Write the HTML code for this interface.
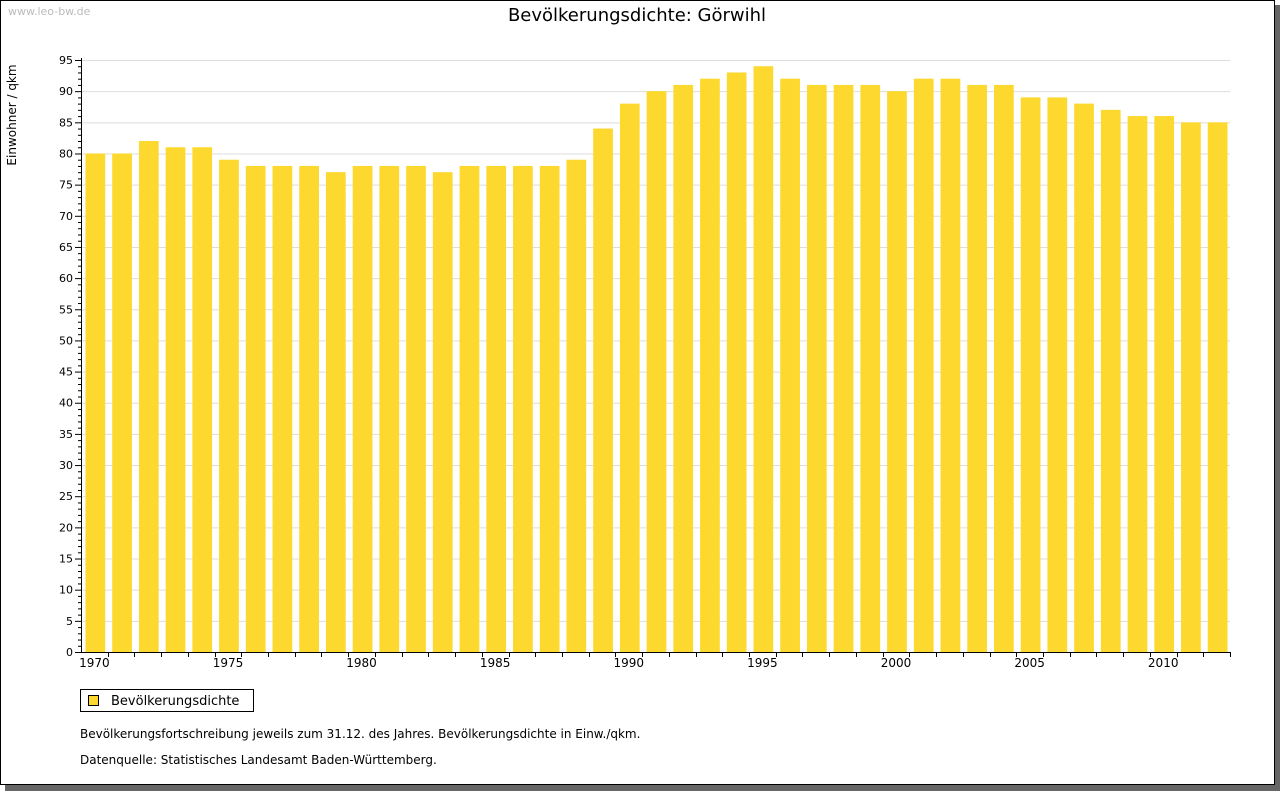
<!DOCTYPE html>
<html><head><meta charset="utf-8"><style>
body{margin:0;background:#fff;font-family:"DejaVu Sans","Liberation Sans",sans-serif;}
#wrap{position:relative;width:1280px;height:791px;overflow:hidden;}
</style></head><body>
<div id="wrap">
<svg id="svg" width="1280" height="791" xmlns="http://www.w3.org/2000/svg" font-family="DejaVu Sans, Liberation Sans, sans-serif">
<rect x="5" y="5" width="1275" height="786" fill="#666"/>
<rect x="0.5" y="0.5" width="1274" height="784" fill="#fff" stroke="#000"/>
<text x="8" y="15" font-size="11" fill="#bbb">www.leo-bw.de</text>
<text x="637" y="21" font-size="18" text-anchor="middle" fill="#000">Bevölkerungsdichte: Görwihl</text>
<text transform="translate(16,115) rotate(-90)" font-size="12" text-anchor="middle">Einwohner / qkm</text>
<g id="grid"></g><g id="bars"></g><g id="axes"></g>
<rect x="80.5" y="689.5" width="173" height="22" fill="#fff" stroke="#000"/>
<rect x="88.5" y="695.5" width="10" height="10" fill="#fdd82e" stroke="#000"/>
<text x="111" y="705" font-size="13">Bevölkerungsdichte</text>
<text x="80" y="738" font-size="12">Bevölkerungsfortschreibung jeweils zum 31.12. des Jahres. Bevölkerungsdichte in Einw./qkm.</text>
<text x="80" y="764" font-size="12">Datenquelle: Statistisches Landesamt Baden-Württemberg.</text>
</svg></div>
<script>
const years=[1970,1971,1972,1973,1974,1975,1976,1977,1978,1979,1980,1981,1982,1983,1984,1985,1986,1987,1988,1989,1990,1991,1992,1993,1994,1995,1996,1997,1998,1999,2000,2001,2002,2003,2004,2005,2006,2007,2008,2009,2010,2011,2012];
const values=[80,80,82,81,81,79,78,78,78,77,78,78,78,77,78,78,78,78,79,84,88,90,91,92,93,94,92,91,91,91,90,92,92,91,91,89,89,88,87,86,86,85,85];
const yTicks=[0,5,10,15,20,25,30,35,40,45,50,55,60,65,70,75,80,85,90,95];
const xLabels=[1970,1975,1980,1985,1990,1995,2000,2005,2010];
const NS="http://www.w3.org/2000/svg";
const X0=81,X1=1230,Y0=652,Y1=60,YMAX=95;
const band=(X1-X0)/years.length;
const y=v=>Y0-(v/YMAX)*(Y0-Y1);
const xi=i=>X0+i*band;
function mk(t,a,p){const e=document.createElementNS(NS,t);for(const k in a)e.setAttribute(k,a[k]);p.appendChild(e);return e;}
const G=document.getElementById('grid'),B=document.getElementById('bars'),A=document.getElementById('axes');
yTicks.forEach(v=>{
 if(v>0){const l=mk('line',{x1:X0,x2:X1,y1:y(v)+.5,y2:y(v)+.5,stroke:'#ddd'},G);
 
 }
 const t=mk('text',{x:X0-8,y:y(v)+4,'font-size':11,'text-anchor':'end'},A);t.textContent=v;
 
 
 mk('line',{x1:X0-6,x2:X0,y1:y(v)+.5,y2:y(v)+.5,stroke:'#000'},A);
});
for(let v=0;v<=YMAX;v++){if(v%5)mk('line',{x1:X0-3,x2:X0,y1:y(v)+.5,y2:y(v)+.5,stroke:'#000'},A);}
values.forEach((v,i)=>{
 const r=mk('rect',{x:xi(i)+4.5,y:y(v),width:band-7,height:Y0-y(v),fill:'#fdd82e'},B);
 
 
 mk('line',{x1:Math.round(xi(i+1))+.5,x2:Math.round(xi(i+1))+.5,y1:Y0,y2:Y0+5,stroke:'#000'},A);
});
xLabels.forEach(yr=>{const i=years.indexOf(yr);
 const t=mk('text',{x:xi(i)+band/2,y:Y0+15,'font-size':12,'text-anchor':'middle'},A);t.textContent=yr;
 
 });
const ax=mk('path',{d:`M${X0+.5},${Y1-2}V${Y0+.5}H${X1}`,stroke:'#000',fill:'none'},A);


</script>
</body></html>
